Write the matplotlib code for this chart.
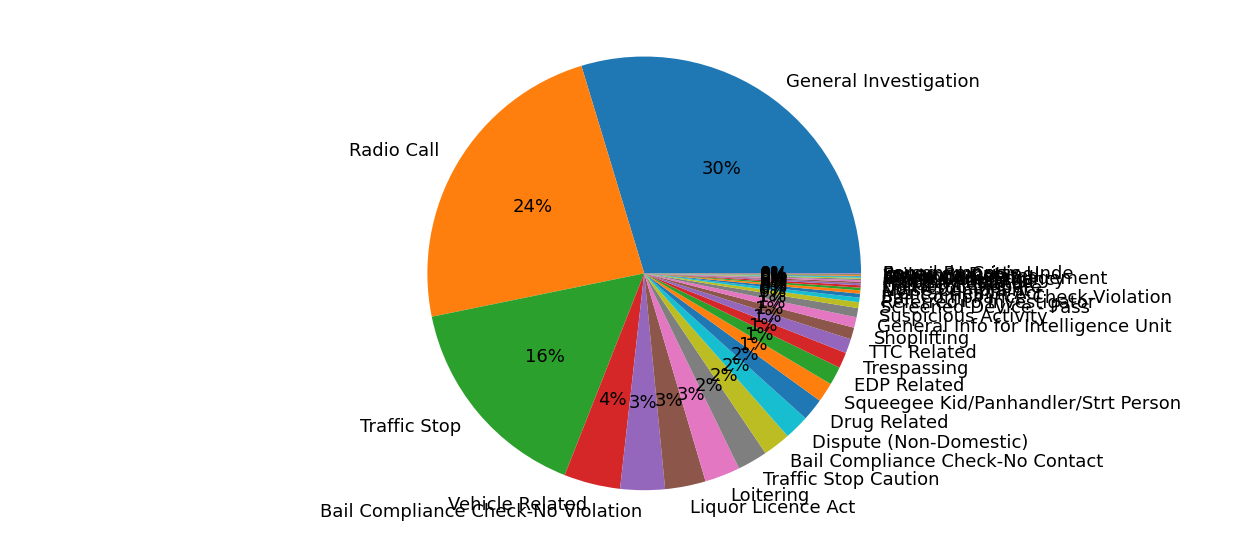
import matplotlib
matplotlib.use("Agg")
import matplotlib.pyplot as plt

# categories and approximate shares (percent)
labels = [
    "General Investigation", "Radio Call", "Traffic Stop", "Vehicle Related",
    "Bail Compliance Check-No Violation", "Liquor Licence Act", "Loitering",
    "Traffic Stop Caution", "Bail Compliance Check-No Contact",
    "Dispute (Non-Domestic)", "Drug Related",
    "Squeegee Kid/Panhandler/Strt Person", "EDP Related", "Trespassing",
    "TTC Related", "Shoplifting", "General Info for Intelligence Unit",
    "Suspicious Activity", "Screened Device - Pass", "Referred to Investigator",
    "Bail Compliance Check-Violation", "Mental Health Act", "Noise Complaint",
    "Domestic Dispute", "Parking Related", "Property Related", "Youth Related",
    "Assist Other Agency", "Community Engagement", "Alarm Call",
    "Weapons Related", "Fail to Comply", "Impaired Driving",
    "Found Property", "Person in Crisis Unde",
]
shares = [
    30.4, 24.1, 16.2, 4.3, 3.4, 3.1, 2.7, 2.3, 2.1, 1.9, 1.7, 1.5, 1.4,
    1.2, 1.1, 0.9, 0.8, 0.7, 0.45, 0.35, 0.3, 0.25, 0.2, 0.18, 0.15, 0.12,
    0.12, 0.1, 0.08, 0.08, 0.06, 0.06, 0.05, 0.04, 0.04,
]

fig = plt.figure(figsize=(12.57, 5.36), dpi=100)
ax = fig.add_axes([0.1, 0.045, 0.825, 0.89])
ax.pie(shares, labels=labels, autopct="%1.0f%%",
       textprops={"fontsize": 13}, wedgeprops={"clip_on": False})
ax.set_aspect("equal")
ax.set_xlim(-1.1 * 0.825 * 12.57 / (0.89 * 5.36), 1.1 * 0.825 * 12.57 / (0.89 * 5.36))
ax.set_ylim(-1.1, 1.1)
fig.savefig("out.png", dpi=100)
